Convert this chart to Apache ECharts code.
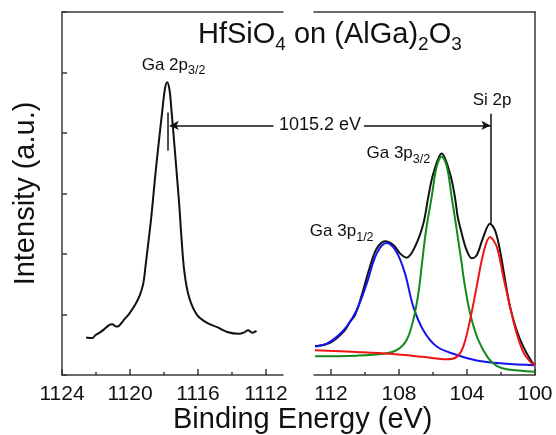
<!DOCTYPE html>
<html>
<head>
<meta charset="utf-8">
<script src="https://cdn.jsdelivr.net/npm/echarts@6/dist/echarts.min.js"></script>
<style>
  html, body { margin: 0; padding: 0; background: #fff; }
  #chart { width: 556px; height: 435px; }
</style>
</head>
<body>
<div id="chart"></div>
<script>
// XPS spectra: Ga 2p3/2 core level (left) and the Ga 3p / Si 2p region (right)
// Points are [binding energy (eV), intensity (a.u.)]

const ga2pSpectrum = [
  [1122.58,0.62],[1122.22,0.61],[1122.03,0.66],[1121.74,0.71],[1121.54,0.75],[1121.25,0.82],
  [1121.05,0.84],[1120.79,0.80],[1120.66,0.81],[1120.36,0.91],[1120.03,1.02],[1119.68,1.17],
  [1119.42,1.32],[1119.22,1.51],[1119.09,1.79],[1118.95,2.12],[1118.79,2.50],[1118.66,2.86],
  [1118.53,3.25],[1118.36,3.71],[1118.10,4.37],[1117.95,4.72],[1117.82,4.84],[1117.68,4.72],
  [1117.56,4.37],[1117.36,3.71],[1117.22,3.22],[1117.10,2.80],[1116.98,2.30],
  [1116.80,1.70],[1116.52,1.28],[1116.05,0.99],[1115.46,0.86],[1114.87,0.79],[1114.28,0.71],
  [1113.60,0.68],[1113.31,0.70],[1113.05,0.74],[1112.81,0.70],[1112.56,0.73]
];

const envelopeSpectrum = [
  [112.94,0.48],[112.25,0.51],[111.66,0.61],[111.18,0.74],[110.88,0.88],[110.59,0.99],
  [110.19,1.32],[109.71,1.79],[109.31,2.09],[108.82,2.21],[108.33,2.15],[107.94,2.01],
  [107.55,1.94],[107.06,2.12],[106.57,2.50],[106.28,2.94],[105.98,3.33],[105.49,3.66],
  [105.00,3.33],[104.71,2.94],[104.55,2.62],[104.31,2.34],[104.02,2.06],[103.72,1.93],
  [103.43,1.98],[103.04,2.28],[102.65,2.50],[102.35,2.39],[102.06,2.06],[101.76,1.57],
  [101.47,1.13],[101.08,0.74],[100.69,0.47],[100.19,0.22],[100.00,0.165]
];

const ga3p12Fit = [
  [112.94,0.47],[112.25,0.52],[111.66,0.63],[111.08,0.80],[110.49,1.07],[109.90,1.51],
  [109.31,2.01],[108.72,2.18],[108.14,2.03],[107.65,1.68],[107.16,1.13],[106.57,0.74],
  [105.78,0.47],[104.60,0.33],[103.43,0.24],[101.86,0.19],[100.00,0.16]
];

const ga3p32Fit = [
  [112.94,0.31],[110.49,0.32],[108.92,0.35],[108.14,0.41],[107.55,0.58],[107.16,0.91],
  [106.86,1.35],[106.65,1.84],[106.41,2.39],[106.08,2.94],[105.78,3.45],[105.49,3.61],
  [105.19,3.45],[104.90,2.94],[104.60,2.39],[104.31,1.84],[104.18,1.57],[103.82,1.02],
  [103.34,0.58],[102.75,0.28],[102.25,0.15],[101.67,0.095],[100.00,0.055]
];

const si2pFit = [
  [112.94,0.41],[110.49,0.38],[108.53,0.35],[106.57,0.30],[105.19,0.26],[104.60,0.30],
  [104.22,0.47],[103.82,0.91],[103.43,1.46],[103.04,2.01],[102.65,2.28],[102.25,2.12],
  [101.86,1.62],[101.47,1.13],[101.08,0.69],[100.69,0.38],[100.29,0.22],[100.00,0.165]
];

// Axis ranges and tick positions
const leftRange = [1111, 1124];
const rightRange = [100, 113];
const intensityRange = [0, 6];
const leftMajorTicks = [1112, 1116, 1120, 1124];
const leftMinorTicks = [1114, 1118, 1122];
const rightMajorTicks = [100, 104, 108, 112];
const rightMinorTicks = [102, 106, 110];

// Peak annotations
const ga2pPeak = 1117.8;
const si2pPeak = 102.6;
const peakSeparation = '1015.2 eV';
const separationLevel = 4.125;

const FONT = '"Liberation Sans", Arial, sans-serif';
const AXIS_COLOR = '#3a3a3a';
const TEXT_COLOR = '#111';

const chart = echarts.init(document.getElementById('chart'), null, { renderer: 'canvas' });

const subRich = {
  n: { fontSize: 17, lineHeight: 24, verticalAlign: 'middle', color: TEXT_COLOR, fontFamily: FONT },
  s: { fontSize: 12.5, verticalAlign: 'bottom', color: TEXT_COLOR, fontFamily: FONT }
};

function peakLabel(coord, text) {
  return {
    coord: coord,
    symbol: 'circle',
    symbolSize: 0,
    itemStyle: { color: 'transparent' },
    label: {
      show: true,
      position: 'inside',
      formatter: text,
      rich: subRich
    }
  };
}

function bottomAxis(grid, range, ticks, showLabels, len) {
  return {
    type: 'value', gridIndex: grid, position: 'bottom', inverse: true,
    min: range[0], max: range[1],
    splitLine: { show: false },
    axisLine: { show: showLabels, onZero: false, lineStyle: { color: AXIS_COLOR, width: 1.5 } },
    axisTick: { show: true, inside: true, length: len, customValues: ticks,
                lineStyle: { color: AXIS_COLOR, width: 1.5 } },
    axisLabel: showLabels
      ? { show: true, customValues: ticks, margin: 9, fontSize: 21, color: TEXT_COLOR,
          fontFamily: FONT, formatter: function (v) { return String(v); } }
      : { show: false }
  };
}

function topAxis(grid, range) {
  return {
    type: 'value', gridIndex: grid, position: 'top', inverse: true,
    min: range[0], max: range[1],
    splitLine: { show: false },
    axisLine: { show: true, onZero: false, lineStyle: { color: AXIS_COLOR, width: 1.5 } },
    axisTick: { show: false }, axisLabel: { show: false }
  };
}

function curve(data, color, xi, yi, extra) {
  return Object.assign({
    type: 'line', data: data, xAxisIndex: xi, yAxisIndex: yi,
    showSymbol: false, smooth: 0.35, clip: false,
    lineStyle: { color: color, width: 2 }, itemStyle: { color: color }
  }, extra || {});
}

const option = {
  animation: false,
  textStyle: { fontFamily: FONT },
  title: [
    {
      left: 198, top: 16, padding: 0,
      text: '{n|HfSiO}{s|4}{n| on (AlGa)}{s|2}{n|O}{s|3}',
      textStyle: {
        fontWeight: 'normal',
        rich: {
          n: { fontSize: 29, fontWeight: 'normal', lineHeight: 38, verticalAlign: 'middle', color: TEXT_COLOR, fontFamily: FONT },
          s: { fontSize: 19, fontWeight: 'normal', verticalAlign: 'bottom', color: TEXT_COLOR, fontFamily: FONT }
        }
      }
    },
    {
      left: 173, top: 405, padding: 0,
      text: 'Binding Energy (eV)',
      textStyle: { fontSize: 29, fontWeight: 'normal', color: TEXT_COLOR, fontFamily: FONT }
    }
  ],
  grid: [
    { left: 62, top: 12, width: 221, height: 363 },
    { left: 314, top: 12, width: 221, height: 363 }
  ],
  xAxis: [
    bottomAxis(0, leftRange, leftMajorTicks, true, 6),
    bottomAxis(0, leftRange, leftMinorTicks, false, 3),
    topAxis(0, leftRange),
    bottomAxis(1, rightRange, rightMajorTicks, true, 6),
    bottomAxis(1, rightRange, rightMinorTicks, false, 3),
    topAxis(1, rightRange)
  ],
  yAxis: [
    {
      type: 'value', gridIndex: 0, position: 'left',
      min: intensityRange[0], max: intensityRange[1], interval: 1,
      name: 'Intensity (a.u.)', nameLocation: 'middle', nameGap: 22,
      nameTextStyle: { fontSize: 29, color: TEXT_COLOR, fontFamily: FONT },
      splitLine: { show: false },
      axisLine: { show: true, lineStyle: { color: AXIS_COLOR, width: 1.5 } },
      axisTick: { show: true, inside: true, length: 5, lineStyle: { color: AXIS_COLOR, width: 1.5 } },
      axisLabel: { show: false }
    },
    {
      type: 'value', gridIndex: 1, position: 'right',
      min: intensityRange[0], max: intensityRange[1], interval: 1,
      splitLine: { show: false },
      axisLine: { show: true, lineStyle: { color: AXIS_COLOR, width: 1.5 } },
      axisTick: { show: false },
      axisLabel: { show: false }
    }
  ],
  series: [
    curve(ga2pSpectrum, '#111', 0, 0, {
      markLine: {
        silent: true, symbol: ['none', 'none'],
        label: { show: false },
        lineStyle: { type: 'solid', color: '#111', width: 1.5 },
        data: [
          [ { coord: [ga2pPeak, 3.71] }, { coord: [ga2pPeak, 4.34] } ],
          [ { coord: [1111.56, separationLevel] },
            { coord: [1117.66, separationLevel], symbol: 'arrow', symbolSize: [7, 9] } ]
        ]
      },
      markPoint: {
        silent: true,
        data: [ peakLabel([1117.44, 5.12], '{n|Ga 2p}{s|3/2}') ]
      }
    }),
    curve(envelopeSpectrum, '#111', 3, 1, {
      markLine: {
        silent: true, symbol: ['none', 'none'],
        lineStyle: { type: 'solid', color: '#111', width: 1.5 },
        data: [
          [ { coord: [si2pPeak, 2.5] }, { coord: [si2pPeak, 4.32] } ],
          [ { coord: [110.06, separationLevel],
              label: { show: true, position: 'start', distance: 3, formatter: peakSeparation,
                       fontSize: 18, color: TEXT_COLOR, fontFamily: FONT } },
            { coord: [102.62, separationLevel], symbol: 'arrow', symbolSize: [7, 9] } ]
        ],
        label: { show: false }
      },
      markPoint: {
        silent: true,
        data: [
          peakLabel([108.04, 3.66], '{n|Ga 3p}{s|3/2}'),
          peakLabel([111.37, 2.37], '{n|Ga 3p}{s|1/2}'),
          peakLabel([102.52, 4.54], '{n|Si 2p}')
        ]
      }
    }),
    curve(ga3p12Fit, '#1414f0', 3, 1),
    curve(ga3p32Fit, '#13891a', 3, 1),
    curve(si2pFit, '#f01414', 3, 1)
  ]
};

chart.setOption(option);
</script>
</body>
</html>
